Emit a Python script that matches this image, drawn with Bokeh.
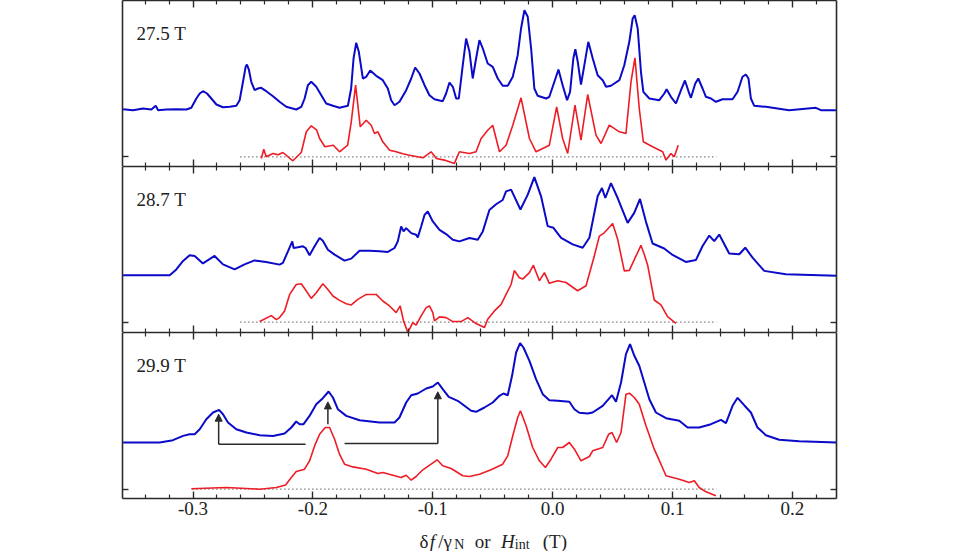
from bokeh.plotting import figure
from bokeh.layouts import column
from bokeh.models import (LinearAxis, FixedTicker, PrintfTickFormatter, Label,
                          Arrow, NormalHead, Range1d)
from bokeh.core.properties import value
from bokeh.embed import file_html
from bokeh.resources import INLINE

# ---------------- data ----------------
field_labels = ["27.5 T", "28.7 T", "29.9 T"]
major_ticks = [-0.3, -0.2, -0.1, 0.0, 0.1, 0.2]
minor_ticks = [-0.34, -0.32, -0.28, -0.26, -0.24, -0.22, -0.18, -0.16, -0.14, -0.12,
               -0.08, -0.06, -0.04, -0.02, 0.02, 0.04, 0.06, 0.08, 0.12, 0.14,
               0.16, 0.18, 0.22]

# 27.5 T
blue1_x = [-0.3583, -0.35, -0.3417, -0.3347, -0.3311, -0.3291, -0.3222, -0.3139, -0.3055, -0.3014,
           -0.2972, -0.2944, -0.2917, -0.2883, -0.2847, -0.2805, -0.275, -0.2694, -0.2639, -0.2611,
           -0.2583, -0.2561, -0.255, -0.2533, -0.2514, -0.2486, -0.2458, -0.2431, -0.2389, -0.2333,
           -0.2278, -0.2222, -0.2139, -0.2097, -0.2069, -0.2042, -0.2014, -0.1972, -0.193, -0.1889,
           -0.1833, -0.1778, -0.1708, -0.1681, -0.1661, -0.1639, -0.1617, -0.1583, -0.1555, -0.1522,
           -0.1472, -0.1417, -0.1375, -0.1347, -0.1319, -0.1278, -0.1222, -0.118, -0.1147, -0.1111,
           -0.1069, -0.1028, -0.0986, -0.0917, -0.0889, -0.0861, -0.0833, -0.0805, -0.0783, -0.075,
           -0.0722, -0.0694, -0.0667, -0.0639, -0.0611, -0.0583, -0.0542, -0.05, -0.0458, -0.0417,
           -0.0375, -0.0333, -0.0292, -0.0264, -0.0236, -0.0208, -0.018, -0.0153, -0.0125, -0.0055,
           -0.0028, 0.0014, 0.0048, 0.0083, 0.012, 0.0145, 0.0172, 0.0189, 0.0209, 0.0236,
           0.0264, 0.0297, 0.0334, 0.0375, 0.0417, 0.0445, 0.0486, 0.0514, 0.0556, 0.0597,
           0.0639, 0.0667, 0.0684, 0.0709, 0.0736, 0.0756, 0.0806, 0.0889, 0.0931, 0.095,
           0.0986, 0.1028, 0.107, 0.1103, 0.1134, 0.1153, 0.1189, 0.1214, 0.125, 0.1278,
           0.132, 0.1361, 0.1417, 0.15, 0.1542, 0.1583, 0.1611, 0.1633, 0.1653, 0.1681,
           0.1778, 0.1972, 0.2195, 0.2237, 0.2362]
blue1_y = [47.6, 46.6, 48.3, 47.3, 51, 46.6, 47.3, 47.6, 47.3, 49,
           58.3, 63.3, 65.6, 63.3, 58.3, 52.3, 49.6, 50, 51, 56.6,
           75, 90, 92.3, 86.6, 75, 66.6, 68.3, 69, 65.6, 60.6,
           55, 50, 47.3, 50, 58.3, 71.6, 75, 70, 61.6, 53.3,
           51, 49, 51, 68.3, 98.3, 114, 105, 78.3, 80, 86.3,
           81, 76.6, 68.3, 56.6, 51.6, 55, 66.6, 78.3, 89.3, 83.3,
           71.6, 61.6, 57.6, 55.6, 63.3, 74.3, 70, 58.3, 58.3, 91.6,
           118.3, 105, 78.3, 98.3, 116.6, 108.3, 93.3, 90, 78.3, 71,
           71, 80, 101.6, 128.3, 146.6, 140, 108.3, 68.3, 61, 58.3,
           60, 75, 87.3, 71.6, 56.6, 65, 98.3, 107.6, 95, 72.3,
           91.6, 115, 98.3, 81.6, 76.6, 70, 71, 73.3, 76.6, 91.6,
           115, 138.3, 141.6, 128.3, 85, 65, 58.3, 56.6, 63.3, 67.6,
           60, 53.3, 66.6, 76.3, 65, 59, 73.3, 78.3, 68.3, 60,
           58.3, 55, 57.6, 57.6, 65, 80, 82.3, 78.3, 58.3, 51,
           50, 46.6, 49, 46.6, 46.6]
red1_x = [-0.243, -0.241, -0.2389, -0.2333, -0.229, -0.225, -0.2167, -0.2097, -0.2055, -0.2014,
          -0.197, -0.1944, -0.19, -0.183, -0.1778, -0.171, -0.168, -0.1644, -0.1605, -0.1555,
          -0.1514, -0.1486, -0.1458, -0.1417, -0.136, -0.1305, -0.125, -0.1194, -0.1083, -0.1014,
          -0.097, -0.0903, -0.082, -0.0778, -0.0694, -0.0639, -0.0597, -0.0542, -0.05, -0.0444,
          -0.0389, -0.0333, -0.0264, -0.0194, -0.0139, -0.0028, 0.0033, 0.0083, 0.0125, 0.0186,
          0.0236, 0.0292, 0.0361, 0.0403, 0.0472, 0.0556, 0.0611, 0.0653, 0.0686, 0.0722,
          0.0756, 0.0833, 0.0917, 0.0945, 0.0986, 0.1014, 0.1047]
red1_y = [-1.7, 7.6, 0, 3.3, 2, 4.3, -4, 4.3, 25, 31,
          27, 18.3, 10, 11.6, 5, 11.6, 35, 71.6, 30, 36.6,
          31.6, 23.3, 25, 15, 6.6, 5, 3, 1.6, -1, 5,
          -1.7, -3.3, -6.6, 5, 3.3, 5, 18.3, 26.6, 31.6, 5,
          11.6, 31.6, 59, 18.3, 5, 11.6, 50, 18.3, 3.3, 51.6,
          16.6, 62.3, 21.6, 13.3, 31.6, 25, 23.3, 75, 99, 48.3,
          15, 10, 5, -3.3, 3.3, 0, 11.6]

# 28.7 T
blue2_x = [-0.3583, -0.3194, -0.3139, -0.3083, -0.3028, -0.2986, -0.2917, -0.282, -0.275, -0.2653,
           -0.257, -0.2486, -0.239, -0.2278, -0.225, -0.2208, -0.2172, -0.2161, -0.2125, -0.2083,
           -0.2061, -0.2028, -0.1986, -0.1944, -0.1917, -0.1875, -0.1819, -0.1736, -0.168, -0.1611,
           -0.1528, -0.1444, -0.1375, -0.1319, -0.1292, -0.1264, -0.1244, -0.1222, -0.118, -0.1139,
           -0.1125, -0.1097, -0.1069, -0.1042, -0.1, -0.0944, -0.0889, -0.0833, -0.0778, -0.0694,
           -0.0625, -0.0583, -0.0528, -0.0472, -0.0417, -0.0389, -0.0347, -0.0269, -0.0208, -0.0153,
           -0.0097, -0.0042, 0.0006, 0.007, 0.0167, 0.025, 0.0306, 0.0375, 0.0411, 0.0439,
           0.0486, 0.0542, 0.0625, 0.068, 0.0728, 0.0778, 0.0833, 0.093, 0.100, 0.111,
           0.1195, 0.125, 0.1306, 0.1347, 0.1389, 0.1472, 0.1556, 0.1606, 0.1667, 0.1764,
           0.1945, 0.2367]
blue2_y = [47.2, 47.2, 53, 61.5, 67.2, 66.5, 59, 66.5, 58, 53,
           58, 62, 60.5, 57.8, 59.5, 71.2, 81.2, 74.5, 75.2, 76.2,
           74.5, 67.2, 76.2, 84.5, 81.8, 72.8, 67.8, 61.8, 63.8, 71.8,
           71.8, 71.2, 70.5, 74.5, 81.2, 96.2, 91.2, 94.5, 89.5, 87.8,
           85.2, 96.2, 107.8, 111.2, 101.2, 92.8, 88.5, 82.8, 81.2, 84.5,
           82.8, 91.2, 112.8, 118.5, 122.8, 131.5, 133.2, 113.2, 128.2, 145.8,
           126.5, 96.5, 94.8, 84.8, 78.2, 74.8, 84.8, 126.5, 134.8, 124.8,
           139.8, 124.8, 99.8, 109.8, 123.8, 100.8, 79, 74, 67.5, 60.5,
           62.5, 76.5, 87, 81.5, 88, 69, 68.2, 74.8, 64.8, 51.5,
           48.2, 46.5]
red2_x = [-0.2444, -0.2347, -0.2305, -0.2278, -0.2236, -0.2194, -0.2139, -0.2097, -0.2069, -0.2014,
          -0.1972, -0.1917, -0.1875, -0.1833, -0.1778, -0.1722, -0.168, -0.1625, -0.1555, -0.1472,
          -0.1417, -0.1361, -0.1305, -0.1272, -0.1244, -0.1208, -0.1167, -0.1139, -0.1097, -0.1055,
          -0.1028, -0.1, -0.0986, -0.0944, -0.0889, -0.0833, -0.0764, -0.0708, -0.0639, -0.0569,
          -0.0542, -0.0486, -0.043, -0.0389, -0.0347, -0.032, -0.0278, -0.025, -0.0194, -0.0161,
          -0.0111, -0.0069, -0.0028, 0.0042, 0.0111, 0.0208, 0.0278, 0.0347, 0.0389, 0.043,
          0.050, 0.0542, 0.0597, 0.0639, 0.0695, 0.0736, 0.0764, 0.0792, 0.0847, 0.0903,
          0.0958, 0.1028]
red2_y = [0.5, 6.5, 2.5, 4.5, 11.2, 27.8, 37.8, 38.5, 33.8, 23.8,
          29.5, 38.5, 32.8, 26.2, 21.8, 18.5, 17.2, 22.8, 27.8, 27.8,
          21.2, 16.2, 9.5, 16.2, 1.2, -10.5, -0.5, -3, 6.2, 14.5,
          16.2, 9.5, 1.2, 5.2, 4.5, 0.5, 0.5, 4.5, -1.5, -5.5,
          2.8, 11.2, 17.8, 27.8, 37.8, 51.8, 44.5, 43.2, 49.8, 57.2,
          41.5, 49.8, 39, 41.5, 39.8, 31.5, 36.5, 66.5, 86.5, 89.8,
          99.2, 83.2, 51.5, 52, 66.5, 77.2, 68, 57.2, 22.2, 17.2,
          5.5, -1.2]

# 29.9 T
blue3_x = [-0.3583, -0.3278, -0.3167, -0.3083, -0.3028, -0.2986, -0.2944, -0.2889, -0.2833, -0.2783,
           -0.275, -0.2708, -0.2639, -0.2555, -0.2444, -0.2333, -0.2236, -0.218, -0.2139, -0.2111,
           -0.2078, -0.2028, -0.1972, -0.1917, -0.1869, -0.1833, -0.1792, -0.1722, -0.1611, -0.1444,
           -0.1319, -0.1278, -0.1222, -0.118, -0.1125, -0.1055, -0.1, -0.0958, -0.0917, -0.0867,
           -0.0792, -0.0736, -0.068, -0.0639, -0.0569, -0.05, -0.0444, -0.0411, -0.0375, -0.0339,
           -0.0305, -0.0272, -0.0244, -0.0194, -0.0139, -0.0083, -0.0028, 0.0042, 0.0139, 0.0181,
           0.0222, 0.0292, 0.0333, 0.0417, 0.0495, 0.0528, 0.057, 0.0611, 0.0645, 0.0681,
           0.0722, 0.0764, 0.0806, 0.0861, 0.0945, 0.1056, 0.1125, 0.1222, 0.132, 0.1403,
           0.1445, 0.15, 0.1542, 0.1597, 0.1653, 0.1708, 0.1778, 0.1889, 0.2056, 0.2367]
blue3_y = [46.7, 46.7, 49, 53.3, 55, 55, 60, 70, 76.7, 79.3,
           75, 66.7, 60, 56.7, 54, 53.3, 55.7, 61.7, 67.7, 65,
           65, 73.3, 85, 91, 97.7, 91.7, 80, 73.3, 69, 66.7,
           66.7, 71.7, 86.7, 94, 95.7, 100.7, 102.7, 106.7, 100, 92.4,
           88.4, 83.4, 78.4, 77.4, 81.7, 86.7, 93.4, 95.7, 94, 113.4,
           136.7, 146, 141.7, 128.4, 110, 95, 89, 88.4, 87.4, 80,
           76.5, 75.7, 76.7, 83.4, 94, 87.4, 106.7, 135, 145, 133.4,
           123.4, 106.7, 90, 76.7, 71, 68.4, 61.7, 61.7, 65, 69.4,
           66, 83.4, 91.4, 84, 76.7, 61.7, 54, 49.4, 48, 46.7]
red3_x = [-0.3014, -0.2722, -0.2444, -0.2305, -0.2228, -0.218, -0.2139, -0.207, -0.2028, -0.1986,
          -0.1944, -0.1897, -0.1861, -0.1819, -0.1778, -0.1736, -0.1667, -0.1555, -0.1458, -0.1417,
          -0.1333, -0.1264, -0.1222, -0.118, -0.1139, -0.1083, -0.1014, -0.0964, -0.0917, -0.0847,
          -0.075, -0.0694, -0.0611, -0.0514, -0.0417, -0.0375, -0.0333, -0.0292, -0.0269, -0.0222,
          -0.0167, -0.0111, -0.0061, -0.0014, 0.0042, 0.0083, 0.0139, 0.0181, 0.0236, 0.0306,
          0.0333, 0.0417, 0.0467, 0.0495, 0.0533, 0.057, 0.0611, 0.0639, 0.0681, 0.0722,
          0.0778, 0.0847, 0.0903, 0.0945, 0.1056, 0.1139, 0.1181, 0.1222, 0.1278, 0.1361]
red3_y = [0.5, 1.7, 0, 1.7, 4.3, 11.7, 17.7, 20, 28.3, 43.3,
          55, 61.7, 61.7, 50, 35, 25, 22.3, 20, 15.7, 16.7,
          14, 11.7, 14, 9, 12.7, 19.4, 25, 29.4, 23.4, 20.7,
          13.4, 12.7, 15, 19.4, 25, 33.4, 53.4, 71.7, 78.4, 63.4,
          41.7, 28.4, 21.7, 30, 41.7, 41.7, 46.7, 40, 28.4, 32.7,
          38.4, 41.7, 55, 56.7, 46.7, 56.7, 95, 96, 91.7, 85,
          63.4, 40, 25, 13.4, 10, 6.7, 8.4, 1.7, -2.6, -6.6]

# dotted zero lines (start, end) for each panel
baseline_start = [-0.2605, -0.2605, -0.3005]
baseline_end = [0.1367, 0.1367, 0.1367]

# arrows in the 29.9 T panel: (x, y_from, y_to) and horizontal legs
arrow_x = [-0.2786, -0.1875, -0.0958]
arrow_y0 = [45.0, 65.0, 45.7]
arrow_y1 = [75.0, 87.3, 97.4]
leg_x0 = [-0.2786, -0.1736]
leg_x1 = [-0.2061, -0.0958]
leg_y = [45.0, 45.7]

y_ranges = [(-9.7, 156.3), (-10.5, 156.5), (-9.3, 156.7)]
x_range = (-0.3588, 0.2367)

# x-axis title pieces
title_text = ["δ", "f", "/γ", "N", "or", "H", "int", "(T)"]
title_x = [-0.1111, -0.1025, -0.0955, -0.0822, -0.0650, -0.0431, -0.0316, -0.0083]
title_style = ["normal", "italic", "normal", "normal", "normal", "italic", "normal", "normal"]
title_size = ["19px", "19px", "19px", "14px", "19px", "19px", "14px", "19px"]
title_y = [10, 10, 10, 7.5, 10, 10, 7.5, 10]

# ---------------- styling ----------------
BLUE = "#0a0ac8"
RED = "#ee1c25"
DARK = "#2a2a2a"
FONT = "Liberation Serif"
FRAME_W = 714
FRAME_H = 166
LEFT = 122


def make_panel(idx, bx, by, rx, ry, last):
    p = figure(output_backend="svg", toolbar_location=None,
               frame_width=FRAME_W, frame_height=FRAME_H,
               x_range=Range1d(*x_range), y_range=Range1d(*y_ranges[idx]),
               x_axis_location=None, y_axis_location=None,
               min_border_left=LEFT, min_border_right=10,
               min_border_top=0, min_border_bottom=(24 if last else 0))
    p.outline_line_color = None
    p.background_fill_color = "white"
    p.border_fill_color = "white"
    p.xgrid.visible = False
    p.ygrid.visible = False

    def xaxis(loc, labels):
        ax = LinearAxis(ticker=FixedTicker(ticks=major_ticks, minor_ticks=minor_ticks))
        ax.axis_line_color = DARK
        ax.axis_line_width = 1.6
        ax.major_tick_line_color = DARK
        ax.minor_tick_line_color = DARK
        ax.major_tick_line_width = 1.4
        ax.minor_tick_line_width = 1.2
        ax.major_tick_in = 7
        ax.major_tick_out = 0
        ax.minor_tick_in = 4
        ax.minor_tick_out = 0
        if labels:
            ax.formatter = PrintfTickFormatter(format="%.1f")
            ax.major_label_text_font = FONT
            ax.major_label_text_font_size = "19px"
            ax.major_label_text_color = "#222222"
            ax.major_label_standoff = 3
        else:
            ax.major_label_text_color = None
            ax.major_label_text_font_size = "1px"
            ax.major_label_standoff = 0
        p.add_layout(ax, loc)

    def yaxis(loc):
        ax = LinearAxis(ticker=FixedTicker(ticks=[0.0], minor_ticks=[]))
        ax.axis_line_color = DARK
        ax.axis_line_width = 1.6
        ax.major_tick_line_color = DARK
        ax.major_tick_line_width = 1.4
        ax.major_tick_in = 6
        ax.major_tick_out = 0
        ax.major_label_text_color = None
        ax.major_label_text_font_size = "1px"
        ax.major_label_standoff = 0
        p.add_layout(ax, loc)

    xaxis("above", False)
    xaxis("below", last)
    yaxis("left")
    yaxis("right")

    p.line([baseline_start[idx], baseline_end[idx]], [0, 0],
           line_color="#444444", line_width=1.2, line_dash="1 3")
    p.line(bx, by, line_color=BLUE, line_width=2.0)
    p.line(rx, ry, line_color=RED, line_width=1.6)

    p.add_layout(Label(x=14, y=FRAME_H - 33, x_units="screen", y_units="screen",
                       text=field_labels[idx], text_font=FONT, text_font_size="19px",
                       text_color="#222222", text_baseline="alphabetic"))
    return p


p1 = make_panel(0, blue1_x, blue1_y, red1_x, red1_y, False)
p2 = make_panel(1, blue2_x, blue2_y, red2_x, red2_y, False)
p3 = make_panel(2, blue3_x, blue3_y, red3_x, red3_y, True)

# arrows
p3.segment(x0=leg_x0, y0=leg_y, x1=leg_x1, y1=leg_y, line_color=DARK, line_width=1.5)
for ax_, y0, y1 in zip(arrow_x, arrow_y0, arrow_y1):
    p3.add_layout(Arrow(end=NormalHead(size=7, fill_color=DARK, line_color=DARK),
                        x_start=ax_, y_start=y0, x_end=ax_, y_end=y1,
                        line_color=DARK, line_width=1.5))

# x-axis title strip
p4 = figure(output_backend="svg", toolbar_location=None,
            frame_width=FRAME_W, frame_height=29,
            x_range=p3.x_range, y_range=Range1d(0, 29),
            x_axis_location=None, y_axis_location=None,
            min_border_left=LEFT, min_border_right=10,
            min_border_top=0, min_border_bottom=0)
p4.outline_line_color = None
p4.xgrid.visible = False
p4.ygrid.visible = False
for txt, xx, st, sz, yy in zip(title_text, title_x, title_style, title_size, title_y):
    p4.text(x=[xx], y=[yy], text=[txt], text_font=value(FONT), text_font_style=st,
            text_font_size=value(sz), text_color="#222222",
            text_baseline="alphabetic", text_align="left")

layout = column(p1, p2, p3, p4)
open("out.html", "w").write(file_html(layout, INLINE))
